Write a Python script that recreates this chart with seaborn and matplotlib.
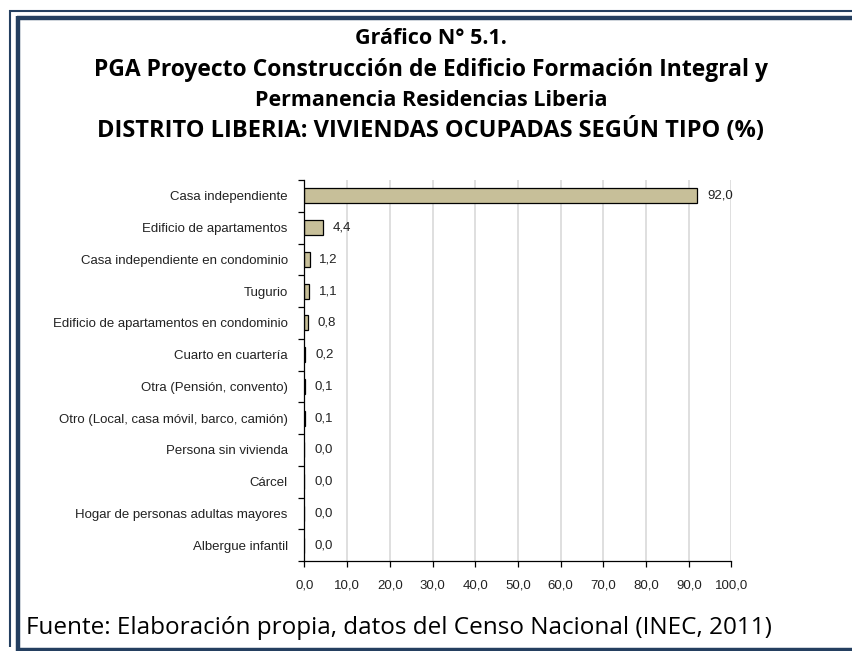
import numpy as np
import matplotlib.pyplot as plt
from matplotlib.lines import Line2D
from matplotlib.ticker import FixedLocator
import seaborn as sns

# data
categorias = [
    "Casa independiente",
    "Edificio de apartamentos",
    "Casa independiente en condominio",
    "Tugurio",
    "Edificio de apartamentos en condominio",
    "Cuarto en cuartería",
    "Otra (Pensión, convento)",
    "Otro (Local, casa móvil, barco, camión)",
    "Persona sin vivienda",
    "Cárcel",
    "Hogar de personas adultas mayores",
    "Albergue infantil",
]
porcentajes = [92.0, 4.4, 1.2, 1.1, 0.8, 0.2, 0.1, 0.1, 0.0, 0.0, 0.0, 0.0]
x_ticks = [0, 10, 20, 30, 40, 50, 60, 70, 80, 90, 100]

titulo = [
    "Gráfico N° 5.1.",
    "PGA Proyecto Construcción de Edificio Formación Integral y",
    "Permanencia Residencias Liberia",
    "DISTRITO LIBERIA: VIVIENDAS OCUPADAS SEGÚN TIPO (%)",
]
fuente = "Fuente: Elaboración propia, datos del Censo Nacional (INEC, 2011)"

sns.set_theme(style="white")
plt.rcParams["font.family"] = ["Liberation Sans", "DejaVu Sans"]

W, H = 853, 651
fig = plt.figure(figsize=(W / 100, H / 100), dpi=100)
ax = fig.add_axes([304.5 / W, 1 - 561 / H, (731.5 - 304.5) / W, (561 - 180) / H])

sns.barplot(x=porcentajes, y=categorias, orient="h", color="#c7bf99",
            saturation=1, edgecolor="black", linewidth=0.9, width=0.48, ax=ax)

ax.bar_label(ax.containers[0], labels=[f"{v:.1f}".replace(".", ",") for v in porcentajes],
             padding=7, fontsize=9.5, color="#222222")

ax.set_xlim(0, 100)
ax.set_ylim(len(categorias) - 0.5, -0.5)
ax.set_xticks(x_ticks)
ax.set_xticklabels([f"{t:.1f}".replace(".", ",") for t in x_ticks], fontsize=9.5, color="#222222")
ax.set_yticklabels(categorias, fontsize=9.5, color="#222222")
ax.set_xlabel("")
ax.set_ylabel("")

# gridlines and spines
ax.xaxis.grid(True, color="#d9d9d9", linewidth=1.2)
ax.yaxis.grid(False)
ax.set_axisbelow(True)
for s in ["top", "right"]:
    ax.spines[s].set_visible(False)
for s in ["left", "bottom"]:
    ax.spines[s].set_color("black")
    ax.spines[s].set_linewidth(0.9)

# y tick marks sit between categories
ax.yaxis.set_minor_locator(FixedLocator(np.arange(-0.5, len(categorias), 1)))
ax.tick_params(axis="y", which="major", length=0, pad=12)
ax.tick_params(axis="y", which="minor", left=True, length=4, width=0.9, color="black")
ax.tick_params(axis="x", which="major", bottom=True, length=4, width=0.9, color="black", pad=9)

# title block and source
ys = [38, 70, 101, 131]
sizes = [15.5, 16.5, 15.5, 17]
for txt, y, fs in zip(titulo, ys, sizes):
    fig.text(431 / W, 1 - y / H, txt, ha="center", va="center", fontsize=fs,
             fontweight="bold", family=["Open Sans", "DejaVu Sans"], color="black")
fig.text(26 / W, 1 - 628 / H, fuente, ha="left", va="center", fontsize=17.5,
         family=["Open Sans", "DejaVu Sans"], color="black")

# page border like the original document
azul = "#243f60"
def px_line(xs, ys, lw):
    fig.add_artist(Line2D([x / W for x in xs], [1 - y / H for y in ys],
                          color=azul, linewidth=lw, solid_capstyle="butt"))

px_line([10, 10], [10, 647], 1.5)
px_line([9.3, W], [10.5, 10.5], 1.5)
px_line([18, 18], [16, 651], 3.2)
px_line([16.5, W], [18, 18], 3.2)
px_line([16.5, W], [649.5, 649.5], 3.2)

fig.savefig("out.png", dpi=100)
